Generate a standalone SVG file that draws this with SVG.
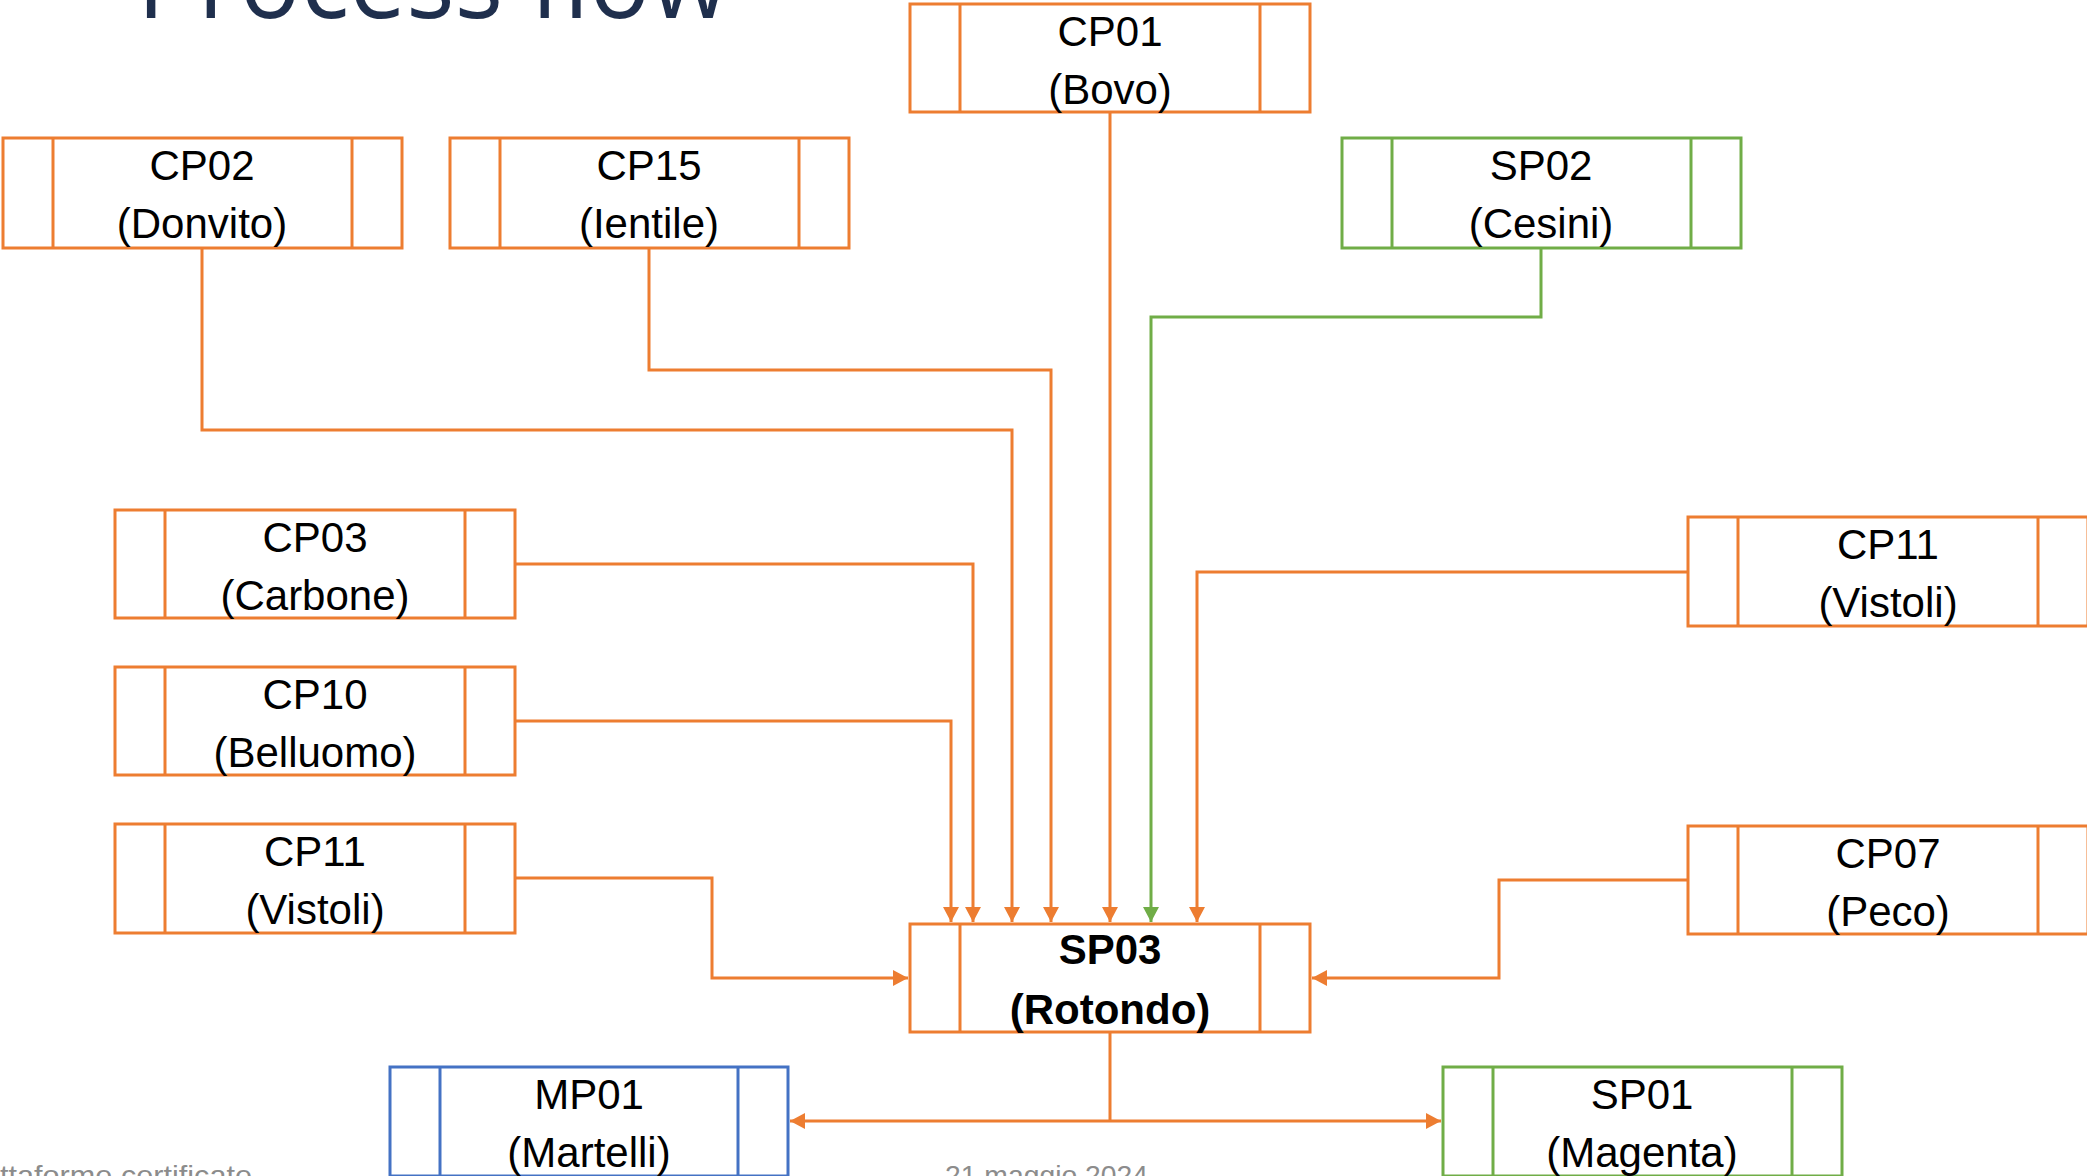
<svg xmlns="http://www.w3.org/2000/svg" width="2087" height="1176" viewBox="0 0 2087 1176">
<style>
.box{fill:#FFFFFF;stroke-width:3}
.div{stroke-width:3}
.o{stroke:#ED7D31}
.g{stroke:#70AD47}
.b{stroke:#4472C4}
.lbl{font-family:"Liberation Sans",Arial,sans-serif;font-size:42px;fill:#000000;text-anchor:middle}
.bold{font-weight:bold}
.con{fill:none;stroke-width:3}
.foot{font-family:"Liberation Sans",Arial,sans-serif;font-size:28px;fill:#8C8C8C}
</style>
<defs>
<marker id="ao" markerUnits="userSpaceOnUse" markerWidth="16" markerHeight="16" refX="15" refY="8" orient="auto">
<path d="M0,0 L15,8 L0,16 z" fill="#ED7D31"/>
</marker>
<marker id="ag" markerUnits="userSpaceOnUse" markerWidth="16" markerHeight="16" refX="15" refY="8" orient="auto">
<path d="M0,0 L15,8 L0,16 z" fill="#70AD47"/>
</marker>
</defs>
<rect x="0" y="0" width="2087" height="1176" fill="#FFFFFF"/>
<text x="137" y="18" font-family="'Open Sans','Liberation Sans',sans-serif" font-size="106" fill="#1F2F4D" textLength="592" lengthAdjust="spacingAndGlyphs">Process flow</text>
<g id="connectors">
<path class="con o" d="M202,248 V430 H1012 V922" marker-end="url(#ao)"/>
<path class="con o" d="M649,248 V370 H1051 V922" marker-end="url(#ao)"/>
<path class="con o" d="M1110,112 V922" marker-end="url(#ao)"/>
<path class="con g" d="M1541,248 V317 H1151 V922" marker-end="url(#ag)"/>
<path class="con o" d="M515,564 H973 V922" marker-end="url(#ao)"/>
<path class="con o" d="M515,721 H951 V922" marker-end="url(#ao)"/>
<path class="con o" d="M515,878 H712 V978 H908" marker-end="url(#ao)"/>
<path class="con o" d="M1688,572 H1197 V922" marker-end="url(#ao)"/>
<path class="con o" d="M1688,880 H1499 V978 H1312" marker-end="url(#ao)"/>
<path class="con o" d="M1110,1032 V1121"/>
<path class="con o" d="M1110,1121 H790" marker-end="url(#ao)"/>
<path class="con o" d="M1110,1121 H1441" marker-end="url(#ao)"/>
</g>
<g id="cp01">
<rect class="box o" x="910" y="4" width="400" height="108"/>
<line class="div o" x1="960" y1="4" x2="960" y2="112"/><line class="div o" x1="1260" y1="4" x2="1260" y2="112"/>
<text class="lbl" x="1110" y="46">CP01</text><text class="lbl" x="1110" y="104">(Bovo)</text>
</g>
<g id="cp02">
<rect class="box o" x="3" y="138" width="399" height="110"/>
<line class="div o" x1="53" y1="138" x2="53" y2="248"/><line class="div o" x1="352" y1="138" x2="352" y2="248"/>
<text class="lbl" x="202" y="180">CP02</text><text class="lbl" x="202" y="238">(Donvito)</text>
</g>
<g id="cp15">
<rect class="box o" x="450" y="138" width="399" height="110"/>
<line class="div o" x1="500" y1="138" x2="500" y2="248"/><line class="div o" x1="799" y1="138" x2="799" y2="248"/>
<text class="lbl" x="649" y="180">CP15</text><text class="lbl" x="649" y="238">(Ientile)</text>
</g>
<g id="sp02">
<rect class="box g" x="1342" y="138" width="399" height="110"/>
<line class="div g" x1="1392" y1="138" x2="1392" y2="248"/><line class="div g" x1="1691" y1="138" x2="1691" y2="248"/>
<text class="lbl" x="1541" y="180">SP02</text><text class="lbl" x="1541" y="238">(Cesini)</text>
</g>
<g id="cp03">
<rect class="box o" x="115" y="510" width="400" height="108"/>
<line class="div o" x1="165" y1="510" x2="165" y2="618"/><line class="div o" x1="465" y1="510" x2="465" y2="618"/>
<text class="lbl" x="315" y="552">CP03</text><text class="lbl" x="315" y="610">(Carbone)</text>
</g>
<g id="cp10">
<rect class="box o" x="115" y="667" width="400" height="108"/>
<line class="div o" x1="165" y1="667" x2="165" y2="775"/><line class="div o" x1="465" y1="667" x2="465" y2="775"/>
<text class="lbl" x="315" y="709">CP10</text><text class="lbl" x="315" y="767">(Belluomo)</text>
</g>
<g id="cp11-left">
<rect class="box o" x="115" y="824" width="400" height="109"/>
<line class="div o" x1="165" y1="824" x2="165" y2="933"/><line class="div o" x1="465" y1="824" x2="465" y2="933"/>
<text class="lbl" x="315" y="866">CP11</text><text class="lbl" x="315" y="924">(Vistoli)</text>
</g>
<g id="cp11-right">
<rect class="box o" x="1688" y="517" width="400" height="109"/>
<line class="div o" x1="1738" y1="517" x2="1738" y2="626"/><line class="div o" x1="2038" y1="517" x2="2038" y2="626"/>
<text class="lbl" x="1888" y="559">CP11</text><text class="lbl" x="1888" y="617">(Vistoli)</text>
</g>
<g id="cp07">
<rect class="box o" x="1688" y="826" width="400" height="108"/>
<line class="div o" x1="1738" y1="826" x2="1738" y2="934"/><line class="div o" x1="2038" y1="826" x2="2038" y2="934"/>
<text class="lbl" x="1888" y="868">CP07</text><text class="lbl" x="1888" y="926">(Peco)</text>
</g>
<g id="sp03">
<rect class="box o" x="910" y="924" width="400" height="108"/>
<line class="div o" x1="960" y1="924" x2="960" y2="1032"/><line class="div o" x1="1260" y1="924" x2="1260" y2="1032"/>
<text class="lbl bold" x="1110" y="964">SP03</text><text class="lbl bold" x="1110" y="1024">(Rotondo)</text>
</g>
<g id="mp01">
<rect class="box b" x="390" y="1067" width="398" height="109"/>
<line class="div b" x1="440" y1="1067" x2="440" y2="1176"/><line class="div b" x1="738" y1="1067" x2="738" y2="1176"/>
<text class="lbl" x="589" y="1109">MP01</text><text class="lbl" x="589" y="1167">(Martelli)</text>
</g>
<g id="sp01">
<rect class="box g" x="1443" y="1067" width="399" height="109"/>
<line class="div g" x1="1493" y1="1067" x2="1493" y2="1176"/><line class="div g" x1="1792" y1="1067" x2="1792" y2="1176"/>
<text class="lbl" x="1642" y="1109">SP01</text><text class="lbl" x="1642" y="1167">(Magenta)</text>
</g>
<text class="foot" x="252" y="1185" text-anchor="end" textLength="252" lengthAdjust="spacingAndGlyphs">ttaforme certificate</text>
<text class="foot" x="945" y="1185" textLength="203" lengthAdjust="spacingAndGlyphs">21 maggio 2024</text>
</svg>
